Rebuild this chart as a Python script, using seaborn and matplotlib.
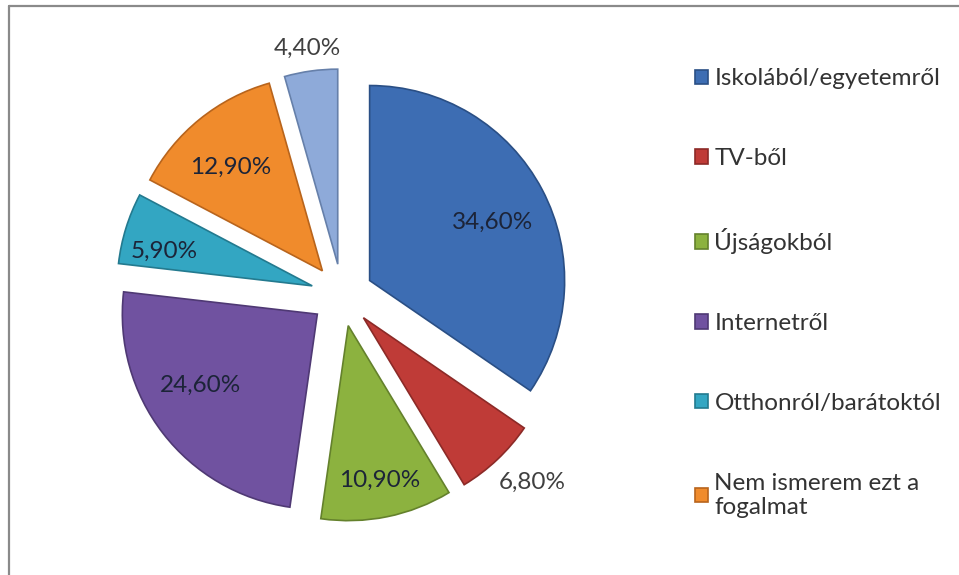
"""Exploded pie chart - honnan ismeri a fogalmat"""
import numpy as np
import matplotlib
matplotlib.use('Agg')
import matplotlib.pyplot as plt
import seaborn as sns
from matplotlib.lines import Line2D

# Data
categories = ['Iskolából/egyetemről', 'TV-ből', 'Újságokból', 'Internetről',
              'Otthonról/barátoktól', 'Nem ismerem ezt a\nfogalmat', '']
shares = [34.6, 6.8, 10.9, 24.6, 5.9, 12.9, 4.4]
share_labels = ['34,60%', '6,80%', '10,90%', '24,60%', '5,90%', '12,90%', '4,40%']

colors = ['#3d6db3', '#bf3b37', '#8cb23f', '#7052a0', '#33a6c2', '#f08b2c', '#8eaad9']
edges = ['#2a4f85', '#8c2a27', '#64812c', '#4f3974', '#237a8f', '#b8641c', '#6680aa']

sns.set_theme(style='white')
plt.rcParams['font.family'] = ['Lato', 'DejaVu Sans']

fig = plt.figure(figsize=(9.59, 5.75), dpi=100)
ax = fig.add_axes([0.0923, 0.046, 0.5287, 0.8817])

wedges, _ = ax.pie(shares, colors=colors, startangle=90, counterclock=False,
                   explode=[0.16] * len(shares),
                   wedgeprops=dict(linewidth=1.2))
for w, ec in zip(wedges, edges):
    w.set_edgecolor(ec)

# label distances from the pie centre (in radii) and small angle nudges
label_r = [0.86, 1.37, 0.97, 0.86, 0.94, 0.87, 1.28]
label_ang_shift = [-2, 2, 0, -5, 3.5, 2, 0]
for w, lab, r, sh in zip(wedges, share_labels, label_r, label_ang_shift):
    ang = np.deg2rad((w.theta1 + w.theta2) / 2 + sh)
    outside = r > 1.2
    ax.text(r * np.cos(ang), r * np.sin(ang), lab, ha='center', va='center',
            fontsize=17.5, color='#404040' if outside else '#1c2438')

ax.set_xlim(-1.3, 1.3)
ax.set_ylim(-1.3, 1.3)
ax.set_aspect('equal')
ax.axis('off')

fig.legend(wedges[:6], categories[:6], loc='upper left',
           bbox_to_anchor=(0.7247, 0.881), frameon=False, fontsize=17.5,
           borderpad=0, borderaxespad=0,
           handlelength=0.55, handleheight=0.55, handletextpad=0.25,
           labelspacing=2.42, labelcolor='#333333')

# chart border (top and left edges only visible)
fig.add_artist(Line2D([9 / 959, 1], [1 - 6 / 575, 1 - 6 / 575], color='#8a8a8a', lw=1.6))
fig.add_artist(Line2D([9 / 959, 9 / 959], [0, 1 - 6 / 575], color='#8a8a8a', lw=1.6))

fig.savefig('out.png', dpi=100, facecolor='white')
